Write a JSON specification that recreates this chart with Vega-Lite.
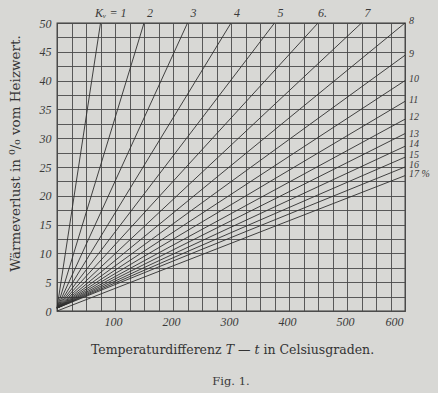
{
  "$schema": "https://vega.github.io/schema/vega-lite/v6.json",
  "width": 348,
  "height": 288,
  "autosize": {"type": "none"},
  "padding": {"left": 57, "top": 23, "right": 33, "bottom": 82},
  "background": "#d8d8d5",
  "config": {
    "view": {"stroke": "#3a3a3a", "strokeWidth": 1.3, "fill": "#d8d8d5"},
    "axis": {
      "domain": false,
      "ticks": false,
      "grid": true,
      "gridColor": "#4a4a4a",
      "gridWidth": 0.9,
      "gridOpacity": 1,
      "labelFont": "Liberation Serif",
      "labelFontStyle": "italic",
      "labelFontSize": 12,
      "labelColor": "#3a3a3a",
      "labelOverlap": false,
      "titleFont": "DejaVu Serif",
      "titleFontWeight": "normal",
      "titleColor": "#333333"
    }
  },
  "title": {
    "text": "Fig. 1.",
    "orient": "bottom",
    "anchor": "middle",
    "font": "DejaVu Serif",
    "fontSize": 11.5,
    "fontWeight": "normal",
    "color": "#3a3a3a",
    "offset": 20
  },
  "datasets": {
    "lines": [
      {"k": 1, "x": 0, "y": 0.5}, {"k": 1, "x": 75, "y": 50},
      {"k": 2, "x": 0, "y": 0.5}, {"k": 2, "x": 150, "y": 50},
      {"k": 3, "x": 0, "y": 0.5}, {"k": 3, "x": 225, "y": 50},
      {"k": 4, "x": 0, "y": 0.5}, {"k": 4, "x": 300, "y": 50},
      {"k": 5, "x": 0, "y": 0.5}, {"k": 5, "x": 375, "y": 50},
      {"k": 6, "x": 0, "y": 0.5}, {"k": 6, "x": 450, "y": 50},
      {"k": 7, "x": 0, "y": 0.5}, {"k": 7, "x": 525, "y": 50},
      {"k": 8, "x": 0, "y": 0.5}, {"k": 8, "x": 600, "y": 50},
      {"k": 9, "x": 0, "y": 0.5}, {"k": 9, "x": 600, "y": 44.4},
      {"k": 10, "x": 0, "y": 0.5}, {"k": 10, "x": 600, "y": 40},
      {"k": 11, "x": 0, "y": 0.5}, {"k": 11, "x": 600, "y": 36.4},
      {"k": 12, "x": 0, "y": 0.5}, {"k": 12, "x": 600, "y": 33.3},
      {"k": 13, "x": 0, "y": 0.5}, {"k": 13, "x": 600, "y": 30.8},
      {"k": 14, "x": 0, "y": 0.5}, {"k": 14, "x": 600, "y": 28.6},
      {"k": 15, "x": 0, "y": 0.5}, {"k": 15, "x": 600, "y": 26.7},
      {"k": 16, "x": 0, "y": 0.5}, {"k": 16, "x": 600, "y": 25},
      {"k": 17, "x": 0, "y": 0}, {"k": 17, "x": 600, "y": 23.5}
    ],
    "tags": [
      {"t": "Kᵥ = 1", "x": 75, "y": 50, "side": "first"},
      {"t": "2", "x": 150, "y": 50, "side": "top"},
      {"t": "3", "x": 225, "y": 50, "side": "top"},
      {"t": "4", "x": 300, "y": 50, "side": "top"},
      {"t": "5", "x": 375, "y": 50, "side": "top"},
      {"t": "6.", "x": 450, "y": 50, "side": "top"},
      {"t": "7", "x": 525, "y": 50, "side": "top"},
      {"t": "8", "x": 600, "y": 50.3, "side": "right"},
      {"t": "9", "x": 600, "y": 44.7, "side": "right"},
      {"t": "10", "x": 600, "y": 40.2, "side": "right"},
      {"t": "11", "x": 600, "y": 36.7, "side": "right"},
      {"t": "12", "x": 600, "y": 33.6, "side": "right"},
      {"t": "13", "x": 600, "y": 30.8, "side": "right"},
      {"t": "14", "x": 600, "y": 29.0, "side": "right"},
      {"t": "15", "x": 600, "y": 27.1, "side": "right"},
      {"t": "16", "x": 600, "y": 25.4, "side": "right"},
      {"t": "17 %", "x": 600, "y": 23.7, "side": "right"}
    ]
  },
  "encoding": {
    "x": {
      "field": "x",
      "type": "quantitative",
      "scale": {"domain": [0, 600], "nice": false},
      "axis": {
        "values": [0, 25, 50, 75, 100, 125, 150, 175, 200, 225, 250, 275, 300, 325, 350, 375, 400, 425, 450, 475, 500, 525, 550, 575, 600],
        "labelExpr": "datum.value % 100 === 0 && datum.value > 0 ? datum.label : ''",
        "labelPadding": 5,
        "labelOffset": -2,
        "labelFlush": true,
        "title": "Temperaturdifferenz  𝑇 — 𝑡  in  Celsiusgraden.",
        "titleFontSize": 12.5,
        "titleX": 175,
        "titleY": 42,
        "titleAlign": "center",
        "titleBaseline": "alphabetic"
      }
    },
    "y": {
      "field": "y",
      "type": "quantitative",
      "scale": {"domain": [0, 50], "nice": false},
      "axis": {
        "values": [0, 2.5, 5, 7.5, 10, 12.5, 15, 17.5, 20, 22.5, 25, 27.5, 30, 32.5, 35, 37.5, 40, 42.5, 45, 47.5, 50],
        "labelExpr": "datum.value % 5 === 0 ? datum.label : ''",
        "labelPadding": 6,
        "title": "Wärmeverlust in ⁰/₀ vom Heizwert.",
        "titleFontSize": 13.5,
        "titleX": -42,
        "titleY": 130,
        "titleAngle": -90,
        "titleAlign": "center",
        "titleBaseline": "middle"
      }
    }
  },
  "layer": [
    {
      "data": {"name": "lines"},
      "mark": {"type": "line", "color": "#2f2f2f", "strokeWidth": 0.9},
      "encoding": {
        "detail": {"field": "k", "type": "nominal"}
      }
    },
    {
      "data": {"name": "tags"},
      "transform": [{"filter": "datum.side === 'first'"}],
      "mark": {"type": "text", "align": "right", "baseline": "middle", "dx": 26, "dy": -10, "font": "Liberation Serif", "fontStyle": "italic", "fontSize": 12, "color": "#3a3a3a"},
      "encoding": {
        "text": {"field": "t"}
      }
    },
    {
      "data": {"name": "tags"},
      "transform": [{"filter": "datum.side === 'top'"}],
      "mark": {"type": "text", "align": "right", "baseline": "middle", "dx": 9, "dy": -10, "font": "Liberation Serif", "fontStyle": "italic", "fontSize": 12, "color": "#3a3a3a"},
      "encoding": {
        "text": {"field": "t"}
      }
    },
    {
      "data": {"name": "tags"},
      "transform": [{"filter": "datum.side === 'right'"}],
      "mark": {"type": "text", "align": "left", "baseline": "middle", "dx": 4, "font": "Liberation Serif", "fontStyle": "italic", "fontSize": 10, "color": "#3a3a3a"},
      "encoding": {
        "text": {"field": "t"}
      }
    }
  ]
}
